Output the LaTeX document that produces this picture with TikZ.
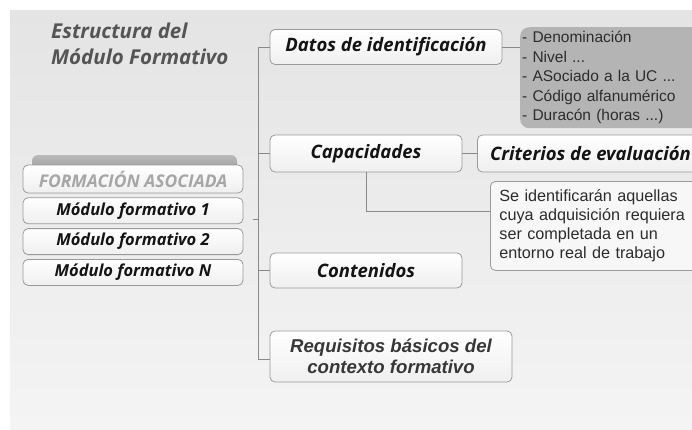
\documentclass[tikz,border=0pt]{standalone}
\usepackage{fontspec}
\usetikzlibrary{positioning}
\newfontfamily\boxfont{Open Sans}
\newfontfamily\listfont{Liberation Sans}
\definecolor{bgtop}{HTML}{E4E4E4}
\definecolor{bgbottom}{HTML}{F4F4F4}
\definecolor{framegray}{HTML}{9A9A9A}
\definecolor{linegray}{HTML}{8A8A8A}
\definecolor{boxbottom}{HTML}{EFEFEF}
\definecolor{listgray}{HTML}{B4B4B4}
\definecolor{tabgray}{HTML}{9C9C9C}
\definecolor{textdark}{HTML}{141414}
\definecolor{titlegray}{HTML}{555555}

\begin{document}
\begin{tikzpicture}[x=1pt, y=-1pt, node distance=4pt,
  block/.style={rectangle, rounded corners=5pt, draw=framegray, thick, top color=white, bottom color=boxbottom,
    inner sep=0pt, align=center, text=textdark, font=\boxfont\bfseries\itshape\fontsize{18.5}{21}\selectfont},
  modulo/.style={block, minimum width=220pt, minimum height=26pt, font=\boxfont\bfseries\itshape\fontsize{16.5}{18}\selectfont},
  lista/.style={rectangle, rounded corners=9pt, fill=listgray, inner xsep=2pt, inner ysep=0pt, text width=190pt,
    align=left, text=textdark!90, font=\listfont\fontsize{15.5}{19.5}\selectfont},
  nota/.style={rectangle, rounded corners=5pt, draw=framegray, thick, fill=white!97!black, inner xsep=9pt, inner ysep=0pt,
    text width=205pt, align=left, text=textdark!90, font=\listfont\fontsize{16.2}{19.2}\selectfont},
  conn/.style={draw=linegray, line width=1pt}]

  % page and background
  \useasboundingbox (0,0) rectangle (692,429);
  \clip (0,0) rectangle (692,429);
  \fill[white] (0,0) rectangle (692,429);
  \shade[top color=bgtop, bottom color=bgbottom] (10,10) rectangle (692,429);

  % title
  \node[anchor=north west, align=left, inner sep=0pt, text=titlegray,
    font=\boxfont\bfseries\itshape\fontsize{20.5}{26}\selectfont] (titulo) at (51,23) {Estructura del\\Módulo Formativo};

  % left stack
  \node[rectangle, rounded corners=6pt, top color=tabgray!70, bottom color=tabgray, minimum width=205pt,
    minimum height=16pt, inner sep=0pt] (pestana) at (134.5,163) {};
  \node[modulo, minimum height=28pt, text=tabgray!90, font=\boxfont\bfseries\itshape\fontsize{17.5}{19}\selectfont]
    (asociada) at (133,179) {FORMACIÓN ASOCIADA};
  \node[modulo, below=4pt of asociada] (modulo1) {Módulo formativo 1};
  \node[modulo, below=4pt of modulo1] (modulo2) {Módulo formativo 2};
  \node[modulo, below=4pt of modulo2] (moduloN) {Módulo formativo N};
  \coordinate (enlace) at (253,219);

  % branches
  \node[block, minimum width=232pt, minimum height=35pt] (datos) at (386,47) {Datos de identificación};
  \node[block, minimum width=192pt, minimum height=37pt] (capacidades) at (366,153.5) {Capacidades};
  \node[block, minimum width=192pt, minimum height=35pt] (contenidos) at (366,270.5) {Contenidos};
  \node[block, minimum width=242pt, minimum height=51pt, text=textdark!85,
    font=\listfont\bfseries\itshape\fontsize{18.6}{20.5}\selectfont] (requisitos) at (391,356.5)
    {Requisitos básicos del\\contexto formativo};
  \node[block, minimum width=226pt, minimum height=37pt, anchor=west] (criterios) at (477,153.5) {Criterios de evaluación};

  % details
  \node[lista, minimum height=101pt, anchor=north west] (identificacion) at (520,27)
    {- Denominación\\- Nivel ...\\- ASociado a la UC ...\\- Código alfanumérico\\- Duracón (horas ...)};
  \node[nota, minimum height=89pt, anchor=north west] (nota) at (490,181)
    {Se identificarán aquellas\\cuya adquisición requiera\\ser completada en un\\entorno real de trabajo};

  % trunk
  \coordinate (tronco) at (258,0);
  \draw[conn] (datos.west) -- (datos.west -| tronco) -- ([yshift=-3pt]requisitos.west -| tronco)
    -- ([yshift=-3pt]requisitos.west);
  \draw[conn] (capacidades.west) -- (capacidades.west -| tronco);
  \draw[conn] (contenidos.west) -- (contenidos.west -| tronco);
  \draw[conn] (enlace) -- (enlace -| tronco);

  % side links
  \draw[conn] (datos.east) -- (datos.east -| identificacion.west);
  \draw[conn] (capacidades.east) -- (criterios.west);
  \draw[conn] (capacidades.south) |- ([yshift=14pt]nota.west);
\end{tikzpicture}
\end{document}
